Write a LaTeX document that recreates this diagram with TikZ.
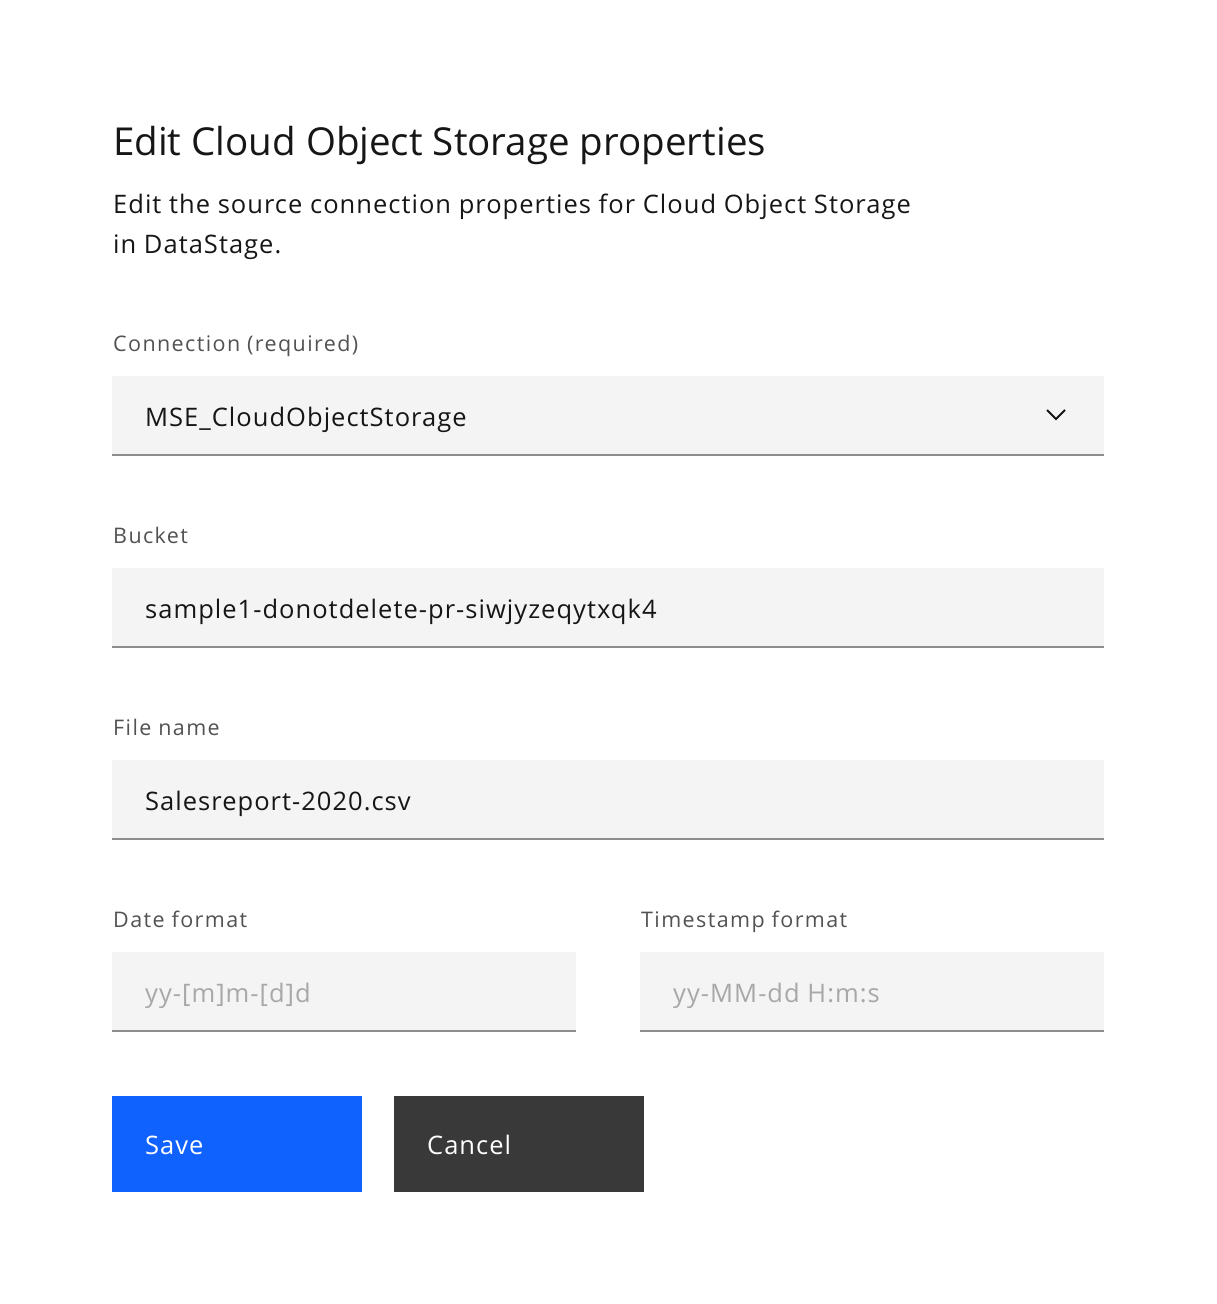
\documentclass[tikz,border=0pt]{standalone}
\usepackage{fontspec}
\setmainfont{Open Sans}
\usetikzlibrary{positioning}
\definecolor{textdark}{HTML}{161616}
\definecolor{labelgray}{HTML}{525252}
\definecolor{holdergray}{HTML}{A8A8A8}
\definecolor{fieldbg}{HTML}{F4F4F4}
\definecolor{linegray}{HTML}{8D8D8D}
\definecolor{saveblue}{HTML}{0F62FE}
\definecolor{canceldark}{HTML}{393939}
\newcommand{\bodyfont}{\fontsize{25.5}{30}\selectfont\addfontfeature{LetterSpace=4}}
\newcommand{\labelfont}{\fontsize{21.5}{25}\selectfont\addfontfeature{LetterSpace=6.5}}

\begin{document}
\begin{tikzpicture}[
		x=1pt, y=-1pt
		,field/.style={fill=fieldbg, anchor=north west, minimum height=78pt, inner sep=0pt}
		,wide/.style={field, minimum width=992pt}
		,half/.style={field, minimum width=464pt}
		,label/.style={anchor=base west, inner sep=0pt, text=labelgray, font=\labelfont}
		,entry/.style={anchor=base west, inner sep=0pt, text=textdark, font=\bodyfont}
		,holder/.style={entry, text=holdergray}
		,underline/.style={linegray, line width=2pt}
		,btn/.style={anchor=north west, minimum width=250pt, minimum height=96pt, inner sep=0pt}
		,btntext/.style={entry, text=white}
	]
		\useasboundingbox (0,0) rectangle (1216,1304);

		% heading
		\node[anchor=base west, inner sep=0pt, text=textdark, font=\fontsize{38.5}{46}\selectfont] (title) at (113,155) {Edit Cloud Object Storage properties};
		\node[entry] (desc1) at (113,213) {Edit the source connection properties for Cloud Object Storage};
		\node[entry] (desc2) at (113,253) {in DataStage.};

		% connection
		\node[label] (connlabel) at (113,351) {Connection (required)};
		\node[wide] (conn) at (112,376) {};
		\draw[underline] ([yshift=-1pt]conn.south west) -- ([yshift=-1pt]conn.south east);
		\node[entry] (connval) at (145,426) {MSE\_CloudObjectStorage};
		\coordinate (chevl) at (1047,410);
		\coordinate (chevm) at (1056,419);
		\coordinate (chevr) at (1065,410);
		\draw[textdark, line width=2pt] (chevl) -- (chevm) -- (chevr);

		% bucket
		\node[label] (bucketlabel) at (113,543) {Bucket};
		\node[wide] (bucket) at (112,568) {};
		\draw[underline] ([yshift=-1pt]bucket.south west) -- ([yshift=-1pt]bucket.south east);
		\node[entry] (bucketval) at (145,618) {sample1-donotdelete-pr-siwjyzeqytxqk4};

		% file name
		\node[label] (filelabel) at (113,735) {File name};
		\node[wide] (file) at (112,760) {};
		\draw[underline] ([yshift=-1pt]file.south west) -- ([yshift=-1pt]file.south east);
		\node[entry] (fileval) at (145,810) {Salesreport-2020.csv};

		% formats
		\node[label] (datelabel) at (113,927) {Date format};
		\node[half] (date) at (112,952) {};
		\draw[underline] ([yshift=-1pt]date.south west) -- ([yshift=-1pt]date.south east);
		\node[holder] (dateval) at (145,1002) {yy-[m]m-[d]d};

		\node[label] (stamplabel) at (641,927) {Timestamp format};
		\node[half] (stamp) at (640,952) {};
		\draw[underline] ([yshift=-1pt]stamp.south west) -- ([yshift=-1pt]stamp.south east);
		\node[holder] (stampval) at (673,1002) {yy-MM-dd H:m:s};

		% buttons
		\node[btn, fill=saveblue] (save) at (112,1096) {};
		\node[btntext] (savetext) at (145,1154) {Save};
		\node[btn, fill=canceldark] (cancel) at (394,1096) {};
		\node[btntext] (canceltext) at (427,1154) {Cancel};
	\end{tikzpicture}
\end{document}
